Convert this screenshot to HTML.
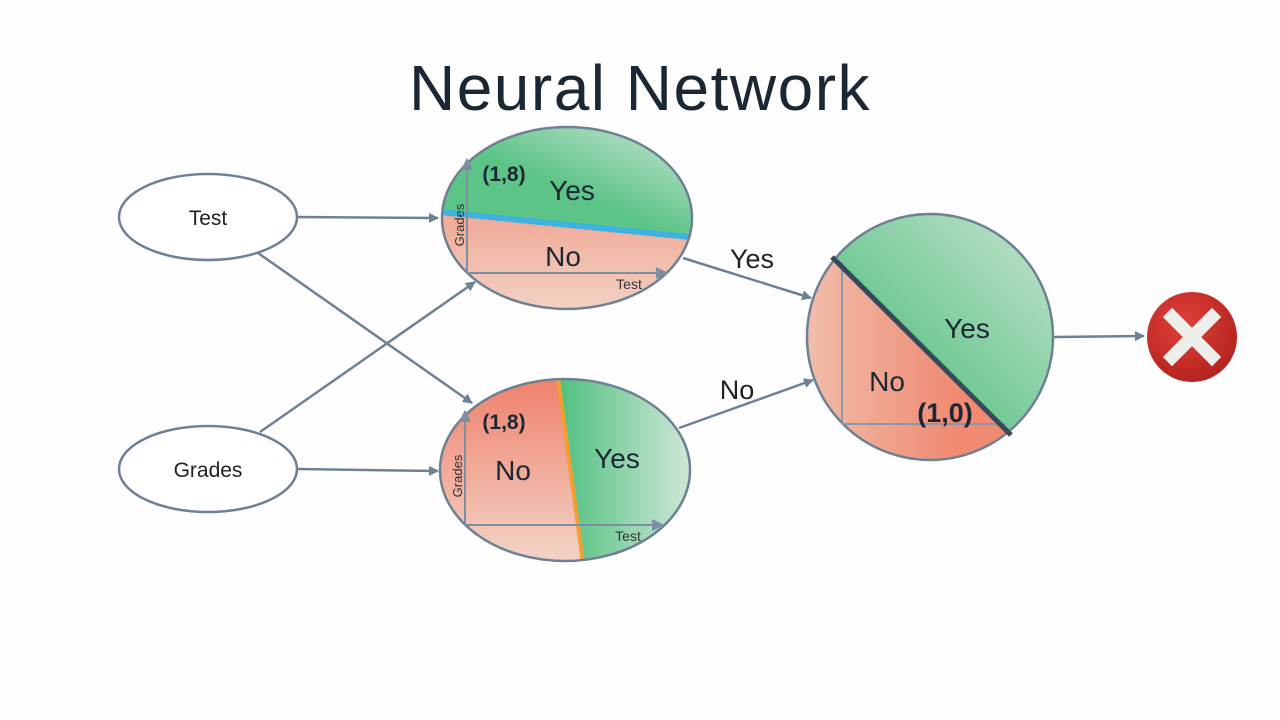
<!DOCTYPE html>
<html><head><meta charset="utf-8"><style>
html,body{margin:0;padding:0;background:#fefefe;}
svg{display:block;font-family:"Liberation Sans","DejaVu Sans",sans-serif;}
</style></head><body>
<svg width="1280" height="720" viewBox="0 0 1280 720" xmlns="http://www.w3.org/2000/svg">
<defs>
<marker id="ar" markerWidth="10" markerHeight="10" refX="9" refY="5" orient="auto" markerUnits="userSpaceOnUse">
<path d="M0,0 L10,5 L0,10 z" fill="#6e8194"/></marker>
<linearGradient id="gT" x1="1" y1="0" x2="0" y2="1"><stop offset="0" stop-color="#d7e8dd"/><stop offset="0.55" stop-color="#5cc487"/></linearGradient>
<linearGradient id="rT" x1="0" y1="0" x2="0" y2="1"><stop offset="0" stop-color="#f0806a"/><stop offset="1" stop-color="#f2d6c8"/></linearGradient>
<linearGradient id="gB" x1="0" y1="0" x2="1" y2="0"><stop offset="0" stop-color="#4dc07e"/><stop offset="1" stop-color="#e3ede4"/></linearGradient>
<linearGradient id="rB" x1="0" y1="0" x2="0" y2="1"><stop offset="0" stop-color="#f07d68"/><stop offset="1" stop-color="#f2d8cb"/></linearGradient>
<linearGradient id="gC" x1="0" y1="1" x2="1" y2="0"><stop offset="0.3" stop-color="#4dbf7c"/><stop offset="1" stop-color="#d2e6d7"/></linearGradient>
<linearGradient id="rC" x1="0" y1="0" x2="1" y2="0"><stop offset="0" stop-color="#f0c0ad"/><stop offset="0.6" stop-color="#f08a72"/></linearGradient>
<clipPath id="cT"><ellipse cx="567" cy="218" rx="125" ry="91"/></clipPath>
<clipPath id="cB"><ellipse cx="565" cy="470" rx="125" ry="91"/></clipPath>
<clipPath id="cC"><circle cx="930" cy="337" r="123"/></clipPath>
<radialGradient id="xr" cx="0.4" cy="0.35" r="0.7"><stop offset="0" stop-color="#e0403a"/><stop offset="1" stop-color="#b3221e"/></radialGradient>
</defs>

<text x="640" y="110" font-size="64" letter-spacing="1.5" text-anchor="middle" fill="#1b2834">Neural Network</text>

<ellipse cx="208" cy="217" rx="89" ry="43" fill="#fff" stroke="#6e8194" stroke-width="2.5"/>
<text x="208" y="225" font-size="21" text-anchor="middle" fill="#222">Test</text>
<ellipse cx="208" cy="469" rx="89" ry="43" fill="#fff" stroke="#6e8194" stroke-width="2.5"/>
<text x="208" y="477" font-size="21" text-anchor="middle" fill="#222">Grades</text>

<g stroke="#6e8194" stroke-width="2.5" fill="none" marker-end="url(#ar)">
<line x1="297" y1="217" x2="438" y2="218"/>
<line x1="297" y1="469" x2="438" y2="471"/>
<line x1="258" y1="253" x2="472" y2="403"/>
<line x1="260" y1="432" x2="475" y2="282"/>
<line x1="683" y1="258" x2="811" y2="298"/>
<line x1="679" y1="428" x2="813" y2="380"/>
<line x1="1053" y1="337" x2="1144" y2="336"/>
</g>
<text x="752" y="268" font-size="27" text-anchor="middle" fill="#222">Yes</text>
<text x="737" y="399" font-size="27" text-anchor="middle" fill="#222">No</text>

<g clip-path="url(#cT)">
<rect x="430" y="120" width="280" height="200" fill="url(#rT)"/>
<polygon points="430,120 710,120 710,239 430,211" fill="url(#gT)"/>
<line x1="430" y1="211" x2="710" y2="239" stroke="#3fb3e0" stroke-width="6"/>
</g>
<ellipse cx="567" cy="218" rx="125" ry="91" fill="none" stroke="#6e8194" stroke-width="2.5"/>
<g stroke="#7d8ea0" stroke-width="2" fill="none">
<line x1="467" y1="273" x2="467" y2="166"/><path d="M462,170 L467,160 L472,170" fill="#7d8ea0"/>
<line x1="467" y1="273" x2="660" y2="273"/><path d="M656,268 L666,273 L656,278" fill="#7d8ea0"/>
</g>
<text x="504" y="181" font-size="21" font-weight="bold" text-anchor="middle" fill="#1b2834">(1,8)</text>
<text x="572" y="200" font-size="28" text-anchor="middle" fill="#1b2834">Yes</text>
<text x="563" y="266" font-size="28" text-anchor="middle" fill="#1b2834">No</text>
<text x="629" y="289" font-size="14" text-anchor="middle" fill="#333">Test</text>
<text transform="translate(464,225) rotate(-90)" font-size="13" text-anchor="middle" fill="#333">Grades</text>

<g clip-path="url(#cB)">
<rect x="430" y="370" width="280" height="200" fill="url(#rB)"/>
<polygon points="557,370 710,370 710,570 585,570" fill="url(#gB)"/>
<line x1="557" y1="370" x2="584" y2="570" stroke="#f0a030" stroke-width="4"/>
</g>
<ellipse cx="565" cy="470" rx="125" ry="91" fill="none" stroke="#6e8194" stroke-width="2.5"/>
<g stroke="#7d8ea0" stroke-width="2" fill="none">
<line x1="465" y1="525" x2="465" y2="418"/><path d="M460,422 L465,412 L470,422" fill="#7d8ea0"/>
<line x1="465" y1="525" x2="656" y2="525"/><path d="M652,520 L662,525 L652,530" fill="#7d8ea0"/>
</g>
<text x="504" y="429" font-size="21" font-weight="bold" text-anchor="middle" fill="#1b2834">(1,8)</text>
<text x="513" y="480" font-size="28" text-anchor="middle" fill="#1b2834">No</text>
<text x="617" y="468" font-size="28" text-anchor="middle" fill="#1b2834">Yes</text>
<text x="628" y="541" font-size="14" text-anchor="middle" fill="#333">Test</text>
<text transform="translate(462,476) rotate(-90)" font-size="13" text-anchor="middle" fill="#333">Grades</text>

<g clip-path="url(#cC)">
<rect x="800" y="210" width="260" height="260" fill="url(#rC)"/>
<polygon points="770,196 1070,196 1070,493" fill="url(#gC)"/>
</g>
<circle cx="930" cy="337" r="123" fill="none" stroke="#6e8194" stroke-width="2.5"/>
<g stroke="#8797a8" stroke-width="2">
<line x1="842" y1="262" x2="842" y2="424"/>
<line x1="842" y1="424" x2="1005" y2="424"/>
</g>
<line x1="832" y1="257" x2="1011" y2="435" stroke="#34495a" stroke-width="5"/>
<text x="967" y="338" font-size="28" text-anchor="middle" fill="#1b2834">Yes</text>
<text x="887" y="391" font-size="28" text-anchor="middle" fill="#1b2834">No</text>
<text x="945" y="422" font-size="27" font-weight="bold" text-anchor="middle" fill="#1b2834">(1,0)</text>

<circle cx="1192" cy="337" r="45" fill="url(#xr)"/>
<g stroke="#eeeeea" stroke-width="13" stroke-linecap="square">
<line x1="1172" y1="317" x2="1212" y2="357"/>
<line x1="1212" y1="317" x2="1172" y2="357"/>
</g>
</svg>
</body></html>
